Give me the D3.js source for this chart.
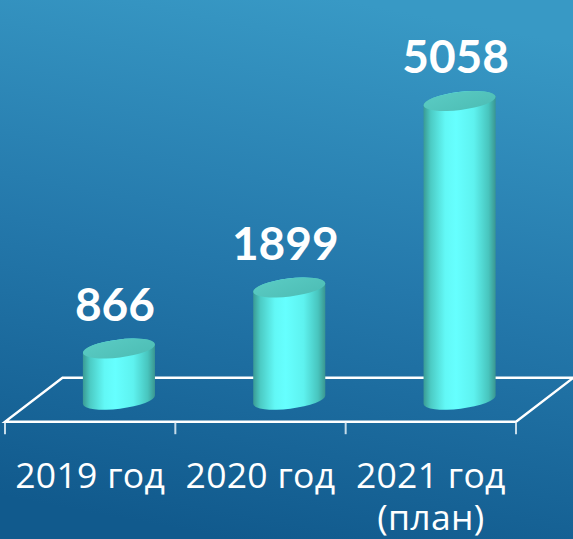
<!DOCTYPE html>
<html><head><meta charset="utf-8">
<script src="https://cdn.jsdelivr.net/npm/d3@7"></script>
<style>html,body{margin:0;padding:0;overflow:hidden;background:#1f75a8}</style>
</head><body><svg id="c" width="573" height="539"></svg>
<script>
const categories = ["2019 год", "2020 год", "2021 год (план)"];
const values = [866, 1899, 5058];

const W = 573, H = 539;
const svg = d3.select("#c");
const defs = svg.append("defs");

const bg = defs.append("linearGradient").attr("id","bg").attr("x1","0.6").attr("y1","0").attr("x2","0.4").attr("y2","1");
bg.append("stop").attr("offset","0").attr("stop-color","#3899c5");
bg.append("stop").attr("offset","0.5").attr("stop-color","#2478ab");
bg.append("stop").attr("offset","1").attr("stop-color","#115a8d");
svg.append("rect").attr("width",W).attr("height",H).attr("fill","url(#bg)");

const body = defs.append("linearGradient").attr("id","body").attr("x1","0").attr("x2","1").attr("y1","0").attr("y2","0");
[["0","#3a9a94"],["0.1","#4ccbc4"],["0.3","#62f8f6"],["0.45","#66ffff"],["0.7","#5ef2ef"],["0.9","#48c5be"],["1","#3a9690"]]
  .forEach(([o,c])=>body.append("stop").attr("offset",o).attr("stop-color",c));
const topG = defs.append("linearGradient").attr("id","topg").attr("x1","0").attr("x2","1").attr("y1","0").attr("y2","1");
topG.append("stop").attr("offset","0").attr("stop-color","#5acbc3");
topG.append("stop").attr("offset","1").attr("stop-color","#4dbdb5");

// geometry
const frontY = 421.7, depthX = 57.5, depthY = -44;
const x = d3.scaleBand().domain(categories).range([5, 516]).paddingInner(0).paddingOuter(0);
const baseY = frontY + depthY/2;
const y = d3.scaleLinear().domain([0, d3.max(values)]).range([baseY, 101]);

// floor
const g = svg.append("g");
const xl = x.range()[0], xr = x.range()[1];
const floorPts = [[xl,frontY],[xr,frontY],[xr+depthX,frontY+depthY],[xl+depthX,frontY+depthY]];
g.append("path").attr("d", d3.line()(floorPts)+"Z").attr("fill","none")
  .attr("stroke","#ffffff").attr("stroke-width",2.4).attr("stroke-linejoin","miter");
// tick marks at band boundaries
const bounds = categories.map(c=>x(c)).concat([xr]);
g.selectAll("line.tick").data(bounds).join("line").attr("class","tick")
  .attr("x1",d=>d).attr("x2",d=>d).attr("y1",frontY+1).attr("y2",frontY+12.5)
  .attr("stroke","#c6dcea").attr("stroke-width",2);

// cylinders
const rx = 36.3, ry = 9, rot = -7;
const th = rot*Math.PI/180;
const ex = rx*Math.cos(th), ey = rx*Math.sin(th);
const cyl = svg.append("g").selectAll("g").data(categories.map((c,i)=>({c,v:values[i]}))).join("g");
cyl.each(function(d){
  const cx = x(d.c) + x.bandwidth()/2 + depthX/2;
  const yt = y(d.v), yb = y(0);
  const s = d3.select(this);
  const p = `M${cx-ex},${yt-ey} L${cx-ex},${yb-ey} A${rx},${ry} ${rot} 0 0 ${cx+ex},${yb+ey} L${cx+ex},${yt+ey} A${rx},${ry} ${rot} 0 0 ${cx-ex},${yt-ey} Z`;
  s.append("path").attr("d",p).attr("fill","url(#body)");
  s.append("ellipse").attr("cx",cx).attr("cy",yt).attr("rx",rx).attr("ry",ry)
    .attr("transform",`rotate(${rot},${cx},${yt})`).attr("fill","url(#topg)");
  s.append("text").attr("x",cx-4).attr("y",yt-28).attr("text-anchor","middle")
    .attr("font-family","Lato, 'Open Sans', sans-serif").attr("font-weight","bold")
    .attr("font-size",46).attr("fill","#ffffff").text(d3.format("d")(d.v));
});

// category labels
const lab = svg.append("g").selectAll("text").data(categories).join("text")
  .attr("x",d=>x(d)+x.bandwidth()/2).attr("y",487.5).attr("text-anchor","middle")
  .attr("font-family","'Open Sans', Lato, sans-serif").attr("font-size",35.5)
  .attr("letter-spacing",0.3).attr("fill","#ffffff");
lab.each(function(d){
  const parts = d.split(" (");
  const t = d3.select(this);
  t.append("tspan").attr("x",x(d)+x.bandwidth()/2).text(parts[0]);
  if(parts[1]) t.append("tspan").attr("x",x(d)+x.bandwidth()/2).attr("dy",42).text("("+parts[1]);
});
</script></body></html>
